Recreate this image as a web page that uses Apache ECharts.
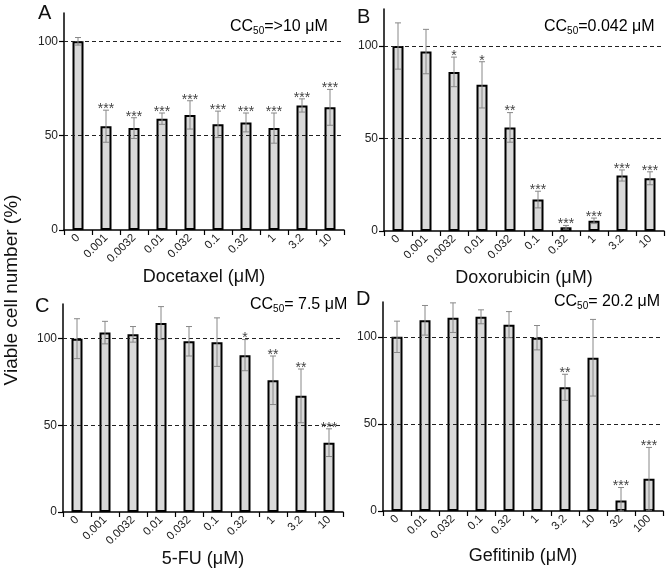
<!DOCTYPE html>
<html><head><meta charset="utf-8">
<script src="https://cdn.jsdelivr.net/npm/echarts@6/dist/echarts.min.js"></script>
<style>html,body{margin:0;padding:0;background:#fff}#c{width:669px;height:581px}</style>
</head><body><div id="c"></div>
<script>
const catsA = ['0','0.001','0.0032','0.01','0.032','0.1','0.32','1','3.2','10'];
const valsA = [100, 55, 54, 59, 61, 56, 57, 54, 66, 65];
const errA  = [2, 8.5, 5.5, 3, 7.5, 7, 5, 8, 3.5, 9.5];
const starsA = ['', '***','***','***','***','***','***','***','***','***'];

const catsB = ['0','0.001','0.0032','0.01','0.032','0.1','0.32','1','3.2','10'];
const valsB = [100, 97, 86, 79, 56, 17, 2, 5.5, 30, 28.5];
const errB  = [12.5, 12, 8, 12.5, 8, 4.5, 1, 1.5, 3, 3.5];
const starsB = ['', '', '*', '*', '**', '***','***','***','***','***'];

const catsC = ['0','0.001','0.0032','0.01','0.032','0.1','0.32','1','3.2','10'];
const valsC = [100, 103.5, 102.5, 109, 98.5, 98, 90.5, 76, 67, 40];
const errC  = [11.5, 6.5, 4.5, 9.5, 8.5, 14, 9, 14, 15.5, 8];
const starsC = ['', '', '', '', '', '', '*', '**', '**', '***'];

const catsD = ['0','0.01','0.032','0.1','0.32','1','3.2','10','32','100'];
const valsD = [100, 109.5, 111, 111.5, 107, 99.5, 71, 88, 6, 18.5];
const errD  = [9, 8.5, 8.5, 4, 7.5, 7, 7.5, 22, 7.5, 18];
const starsD = ['', '', '', '', '', '', '**', '', '***', '***'];

const yTicks = [0, 50, 100];
const refLines = [50, 100];

const panels = [
  {cats: catsA, vals: valsA, err: errA, stars: starsA, name: 'Docetaxel (μM)', max: 115,
   grid: {left: 64, top: 13, width: 280, height: 217}},
  {cats: catsB, vals: valsB, err: errB, stars: starsB, name: 'Doxorubicin (μM)', max: 120,
   grid: {left: 384, top: 9, width: 280, height: 222}},
  {cats: catsC, vals: valsC, err: errC, stars: starsC, name: '5-FU (μM)', max: 120,
   grid: {left: 63, top: 304, width: 280, height: 208}},
  {cats: catsD, vals: valsD, err: errD, stars: starsD, name: 'Gefitinib (μM)', max: 120,
   grid: {left: 383, top: 302, width: 280, height: 209}}
];

const FONT = 'Liberation Sans, Arial, sans-serif';
const grids = [], xAxes = [], yAxes = [], series = [];
panels.forEach((p, k) => {
  grids.push(p.grid);
  xAxes.push({
    type: 'category', gridIndex: k, data: p.cats,
    axisLine: {lineStyle: {color: '#000', width: 1.5}},
    axisTick: {show: true, length: 5, lineStyle: {color: '#000', width: 1.2}},
    axisLabel: {rotate: 45, fontSize: 11.5, color: '#222', fontFamily: FONT, margin: 6},
    name: p.name, nameLocation: 'middle', nameGap: 36,
    nameTextStyle: {fontSize: 18, color: '#111', fontFamily: FONT}
  });
  yAxes.push({
    type: 'value', gridIndex: k, min: 0, max: p.max, interval: 50,
    axisLine: {show: true, lineStyle: {color: '#000', width: 1.5}},
    axisTick: {show: true, length: 5, customValues: yTicks, lineStyle: {color: '#000', width: 1.2}},
    axisLabel: {fontSize: 12, color: '#222', fontFamily: FONT, margin: 6, customValues: yTicks},
    splitLine: {show: false}
  });
  series.push({
    type: 'bar', xAxisIndex: k, yAxisIndex: k, data: p.vals, barWidth: 11,
    itemStyle: {color: '#d9d9d9', borderColor: '#000', borderWidth: 2},
    silent: true, animation: false, z: 2,
    markLine: {
      silent: true, symbol: 'none', label: {show: false}, animation: false,
      lineStyle: {type: [4, 3], color: '#222', width: 1},
      data: refLines.map(v => ({yAxis: v}))
    }
  });
  const data = p.vals.map((v, i) => [i, v, p.err[i]]);
  series.push({
    type: 'custom', xAxisIndex: k, yAxisIndex: k, data: data, z: 5, animation: false, silent: true,
    renderItem: function (params, api) {
      const i = api.value(0), v = api.value(1), e = api.value(2);
      const top = api.coord([i, v + e]);
      const bot = api.coord([i, Math.max(0, v - e)]);
      const x = top[0], cw = 3;
      const st = {stroke: '#888', lineWidth: 1};
      const ch = [
        {type: 'line', shape: {x1: x, y1: top[1], x2: x, y2: bot[1]}, style: st},
        {type: 'line', shape: {x1: x - cw, y1: top[1], x2: x + cw, y2: top[1]}, style: st},
        {type: 'line', shape: {x1: x - cw, y1: bot[1], x2: x + cw, y2: bot[1]}, style: st}
      ];
      const s = p.stars[params.dataIndex];
      if (s) ch.push({type: 'text', x: x, y: top[1] + 6,
        style: {text: s, fill: '#444', fontSize: 14, fontFamily: FONT, align: 'center', verticalAlign: 'bottom'}});
      return {type: 'group', children: ch};
    }
  });
});

function cc(val) {
  return '{a|CC}{s|50}{a|' + val + '}';
}
const ccRich = {a: {fontSize: 16, fontFamily: FONT, color: '#111'},
  s: {fontSize: 10, fontFamily: FONT, color: '#111', padding: [8, 0, 0, 0]}};

const graphics = [
  {type: 'text', x: 12, y: 290, rotation: Math.PI / 2,
   style: {text: 'Viable cell number (%)', fontSize: 19, fontFamily: FONT, fill: '#111', align: 'center', verticalAlign: 'middle'}},
  {type: 'text', x: 38, y: 3, style: {text: 'A', fontSize: 20, fontFamily: FONT, fill: '#111'}},
  {type: 'text', x: 357, y: 7, style: {text: 'B', fontSize: 20, fontFamily: FONT, fill: '#111'}},
  {type: 'text', x: 35, y: 296, style: {text: 'C', fontSize: 20, fontFamily: FONT, fill: '#111'}},
  {type: 'text', x: 356, y: 289, style: {text: 'D', fontSize: 20, fontFamily: FONT, fill: '#111'}},
  {type: 'text', x: 230, y: 18, style: {text: cc('=>10 μM'), rich: ccRich}},
  {type: 'text', x: 544, y: 18, style: {text: cc('=0.042 μM'), rich: ccRich}},
  {type: 'text', x: 250, y: 296, style: {text: cc('= 7.5 μM'), rich: ccRich}},
  {type: 'text', x: 554, y: 293, style: {text: cc('= 20.2 μM'), rich: ccRich}}
];

const chart = echarts.init(document.getElementById('c'), null, {renderer: 'canvas'});
chart.setOption({
  animation: false, backgroundColor: '#fff',
  grid: grids, xAxis: xAxes, yAxis: yAxes, series: series, graphic: graphics
});
</script></body></html>
